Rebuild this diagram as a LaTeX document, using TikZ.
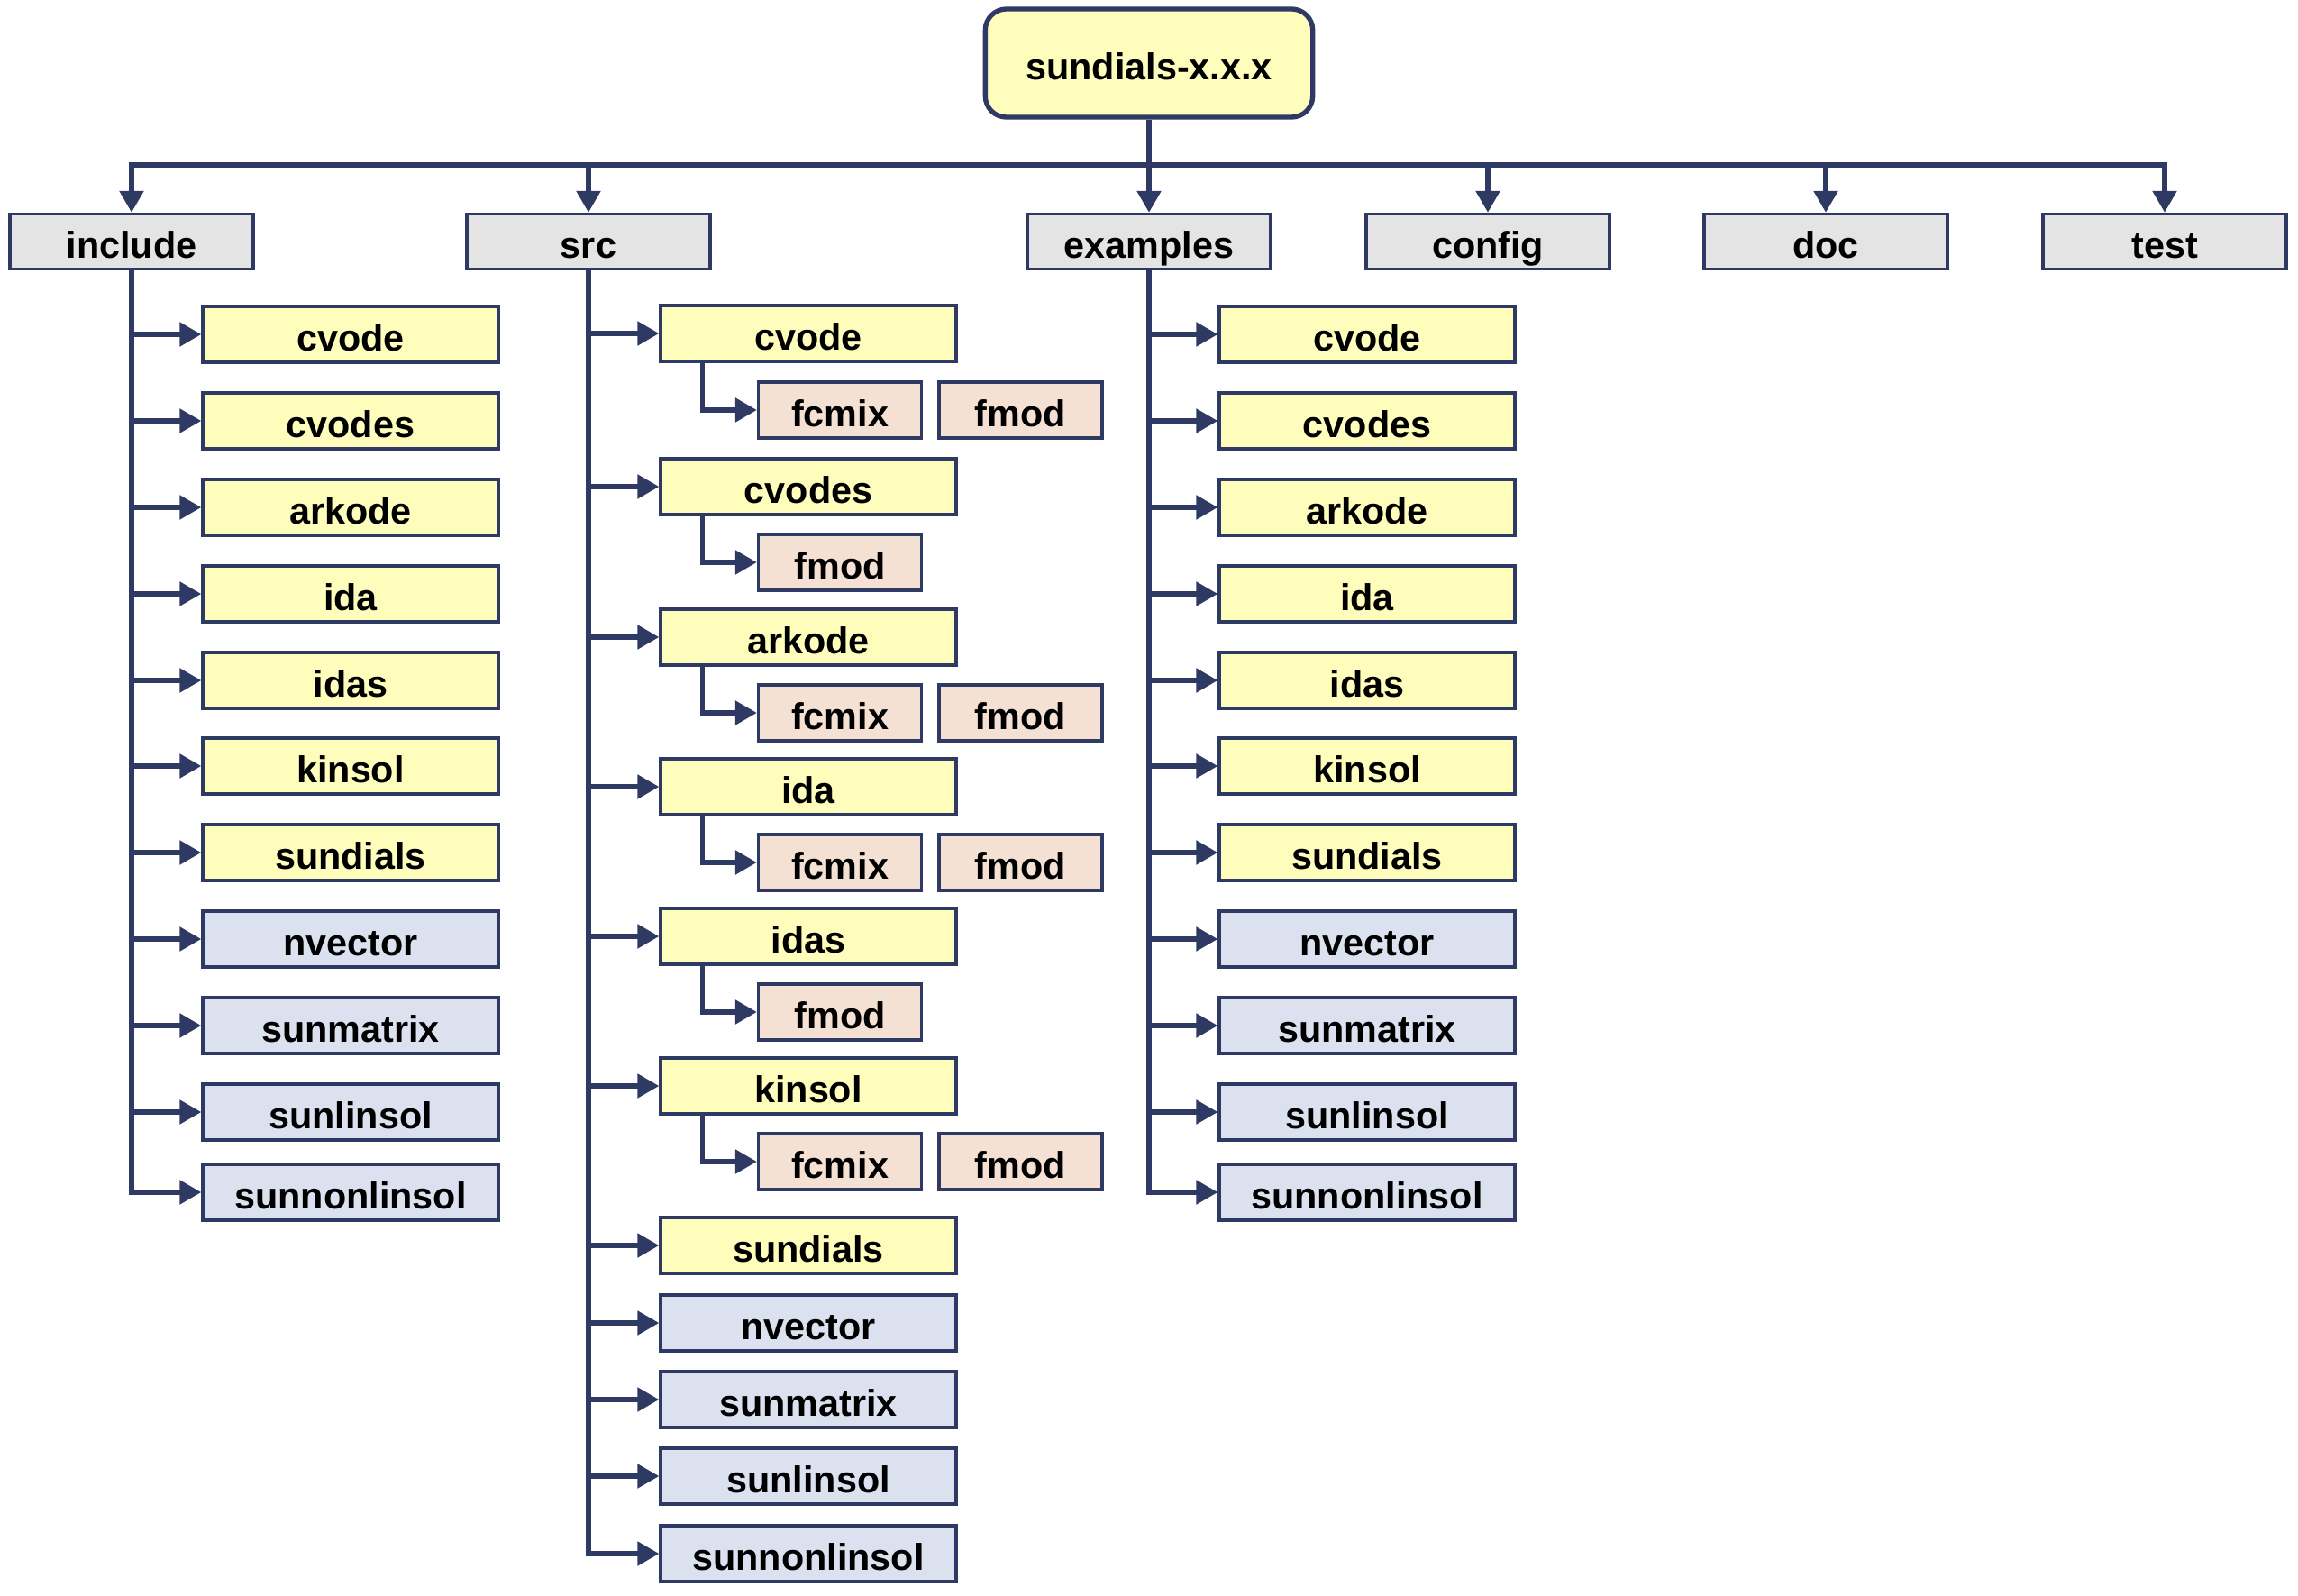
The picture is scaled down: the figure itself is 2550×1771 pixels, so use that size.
\documentclass[tikz,border=0pt]{standalone}
\usepackage{fontspec}
\setmainfont{Liberation Sans}
\usepackage{tikz}
\usetikzlibrary{positioning,arrows.meta}

\definecolor{navy}{RGB}{46,58,99}
\definecolor{pkgyellow}{RGB}{255,253,187}
\definecolor{libblue}{RGB}{220,225,240}
\definecolor{fortpeach}{RGB}{245,225,212}
\definecolor{dirgray}{RGB}{228,228,228}

\begin{document}
\begin{tikzpicture}[
  x=0.3pt, y=-0.3pt,
  box/.style={draw=navy, line width=1pt, inner sep=0pt, text height=11.2pt, text depth=0pt,
    font=\bfseries\fontsize{12.4pt}{14pt}\selectfont},
  rootbox/.style={box, fill=pkgyellow, line width=1.6pt, rounded corners=7pt, minimum width=109pt, minimum height=36pt},
  dir/.style={box, fill=dirgray, minimum width=81pt, minimum height=18.3pt},
  pkg/.style={box, fill=pkgyellow, minimum width=98.4pt, minimum height=18.6pt},
  lib/.style={box, fill=libblue, minimum width=98.4pt, minimum height=18.6pt},
  fort/.style={box, fill=fortpeach, minimum width=54.3pt, minimum height=18.6pt},
  arr/.style={-{Triangle[length=7.2pt,width=7.8pt]}, line width=1.6pt, draw=navy}
]
\useasboundingbox (0,0) rectangle (2550,1771);

% top level
\node[rootbox] (root) at (1275,70) {sundials-x.x.x};
\coordinate (bus) at (1275,183);
\node[dir] (include) at (146,268) {include};
\node[dir] (src) at (653,268) {src};
\node[dir] (examples) at (1275,268) {examples};
\node[dir] (config) at (1651,268) {config};
\node[dir] (doc) at (2026,268) {doc};
\node[dir] (test) at (2402,268) {test};

\draw[arr] (root.south) -- (bus) -| (include.north);
\draw[arr] (root.south) -- (bus) -| (src.north);
\draw[arr] (root.south) -- (examples.north);
\draw[arr] (root.south) -- (bus) -| (config.north);
\draw[arr] (root.south) -- (bus) -| (doc.north);
\draw[arr] (root.south) -- (bus) -| (test.north);

% include
\node[pkg] (inccvode) at (389,371) {cvode};
\node[pkg] (inccvodes) at (389,467) {cvodes};
\node[pkg] (incarkode) at (389,563) {arkode};
\node[pkg] (incida) at (389,659) {ida};
\node[pkg] (incidas) at (389,755) {idas};
\node[pkg] (inckinsol) at (389,850) {kinsol};
\node[pkg] (incsundials) at (389,946) {sundials};
\node[lib] (incnvector) at (389,1042) {nvector};
\node[lib] (incsunmatrix) at (389,1138) {sunmatrix};
\node[lib] (incsunlinsol) at (389,1234) {sunlinsol};
\node[lib] (incsunnonlinsol) at (389,1323) {sunnonlinsol};

\draw[arr] (include.south) |- (inccvode.west);
\draw[arr] (include.south) |- (inccvodes.west);
\draw[arr] (include.south) |- (incarkode.west);
\draw[arr] (include.south) |- (incida.west);
\draw[arr] (include.south) |- (incidas.west);
\draw[arr] (include.south) |- (inckinsol.west);
\draw[arr] (include.south) |- (incsundials.west);
\draw[arr] (include.south) |- (incnvector.west);
\draw[arr] (include.south) |- (incsunmatrix.west);
\draw[arr] (include.south) |- (incsunlinsol.west);
\draw[arr] (include.south) |- (incsunnonlinsol.west);

% src
\node[pkg] (srccvode) at (897,370) {cvode};
\node[fort] (cvodefcmix) at (932,455) {fcmix};
\node[fort, right=4.8pt of cvodefcmix] (cvodefmod) {fmod};
\node[pkg] (srccvodes) at (897,540) {cvodes};
\node[fort] (cvodesfmod) at (932,624) {fmod};
\node[pkg] (srcarkode) at (897,707) {arkode};
\node[fort] (arkodefcmix) at (932,791) {fcmix};
\node[fort, right=4.8pt of arkodefcmix] (arkodefmod) {fmod};
\node[pkg] (srcida) at (897,873) {ida};
\node[fort] (idafcmix) at (932,957) {fcmix};
\node[fort, right=4.8pt of idafcmix] (idafmod) {fmod};
\node[pkg] (srcidas) at (897,1039) {idas};
\node[fort] (idasfmod) at (932,1123) {fmod};
\node[pkg] (srckinsol) at (897,1205) {kinsol};
\node[fort] (kinsolfcmix) at (932,1289) {fcmix};
\node[fort, right=4.8pt of kinsolfcmix] (kinsolfmod) {fmod};
\node[pkg] (srcsundials) at (897,1382) {sundials};
\node[lib] (srcnvector) at (897,1468) {nvector};
\node[lib] (srcsunmatrix) at (897,1553) {sunmatrix};
\node[lib] (srcsunlinsol) at (897,1638) {sunlinsol};
\node[lib] (srcsunnonlinsol) at (897,1724) {sunnonlinsol};

\draw[arr] (src.south) |- (srccvode.west);
\draw[arr] (src.south) |- (srccvodes.west);
\draw[arr] (src.south) |- (srcarkode.west);
\draw[arr] (src.south) |- (srcida.west);
\draw[arr] (src.south) |- (srcidas.west);
\draw[arr] (src.south) |- (srckinsol.west);
\draw[arr] (src.south) |- (srcsundials.west);
\draw[arr] (src.south) |- (srcnvector.west);
\draw[arr] (src.south) |- (srcsunmatrix.west);
\draw[arr] (src.south) |- (srcsunlinsol.west);
\draw[arr] (src.south) |- (srcsunnonlinsol.west);

\draw[arr] ([xshift=14.4pt]srccvode.south west) |- (cvodefcmix.west);
\draw[arr] ([xshift=14.4pt]srccvodes.south west) |- (cvodesfmod.west);
\draw[arr] ([xshift=14.4pt]srcarkode.south west) |- (arkodefcmix.west);
\draw[arr] ([xshift=14.4pt]srcida.south west) |- (idafcmix.west);
\draw[arr] ([xshift=14.4pt]srcidas.south west) |- (idasfmod.west);
\draw[arr] ([xshift=14.4pt]srckinsol.south west) |- (kinsolfcmix.west);

% examples
\node[pkg] (excvode) at (1517,371) {cvode};
\node[pkg] (excvodes) at (1517,467) {cvodes};
\node[pkg] (exarkode) at (1517,563) {arkode};
\node[pkg] (exida) at (1517,659) {ida};
\node[pkg] (exidas) at (1517,755) {idas};
\node[pkg] (exkinsol) at (1517,850) {kinsol};
\node[pkg] (exsundials) at (1517,946) {sundials};
\node[lib] (exnvector) at (1517,1042) {nvector};
\node[lib] (exsunmatrix) at (1517,1138) {sunmatrix};
\node[lib] (exsunlinsol) at (1517,1234) {sunlinsol};
\node[lib] (exsunnonlinsol) at (1517,1323) {sunnonlinsol};

\draw[arr] (examples.south) |- (excvode.west);
\draw[arr] (examples.south) |- (excvodes.west);
\draw[arr] (examples.south) |- (exarkode.west);
\draw[arr] (examples.south) |- (exida.west);
\draw[arr] (examples.south) |- (exidas.west);
\draw[arr] (examples.south) |- (exkinsol.west);
\draw[arr] (examples.south) |- (exsundials.west);
\draw[arr] (examples.south) |- (exnvector.west);
\draw[arr] (examples.south) |- (exsunmatrix.west);
\draw[arr] (examples.south) |- (exsunlinsol.west);
\draw[arr] (examples.south) |- (exsunnonlinsol.west);
\end{tikzpicture}
\end{document}
